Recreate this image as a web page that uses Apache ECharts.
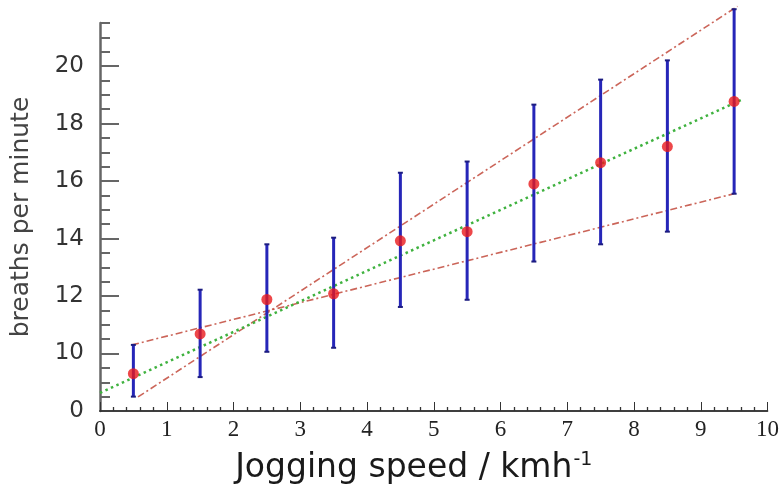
<!DOCTYPE html>
<html>
<head>
<meta charset="utf-8">
<script src="https://cdn.jsdelivr.net/npm/echarts@6/dist/echarts.min.js"></script>
<style>html,body{margin:0;padding:0;background:#fff}#c{width:782px;height:490px}</style>
</head>
<body>
<div id="c"></div>
<script>
// ---- data ----
const speeds  = [0.5, 1.5, 2.5, 3.5, 4.5, 5.5, 6.5, 7.5, 8.5, 9.5];
const breaths = [9.3, 10.68, 11.88, 12.08, 13.92, 14.24, 15.9, 16.64, 17.2, 18.77];
const errLow  = [8.5, 9.18, 10.06, 10.2, 11.62, 11.87, 13.2, 13.8, 14.24, 15.56];
const errHigh = [10.3, 12.22, 13.8, 14.03, 16.29, 16.68, 18.66, 19.53, 20.2, 21.98];

const bestFitX = [0, 9.62];
const bestFitY = [8.63, 18.84];
const maxFitX  = [0.57, 9.55];
const maxFitY  = [8.49, 22.08];
const minFitX  = [0.48, 9.5];
const minFitY  = [10.3, 15.56];

const xTickLabels = ['0','1','2','3','4','5','6','7','8','9','10'];
const xMinorTicks = [0.2,0.4,0.6,0.8,1.2,1.4,1.6,1.8,2.2,2.4,2.6,2.8,3.2,3.4,3.6,3.8,4.2,4.4,4.6,4.8,5.2,5.4,5.6,5.8,6.2,6.4,6.6,6.8,7.2,7.4,7.6,7.8,8.2,8.4,8.6,8.8,9.2,9.4,9.6,9.8];
const yLabelValues = [8, 10, 12, 14, 16, 18, 20];
const yTickLabels  = ['0','10','12','14','16','18','20'];
const yMajorTicks  = [10, 12, 14, 16, 18, 20];
const yMinorTicks  = [8.5, 9, 9.5, 10.5, 11, 11.5, 12.5, 13, 13.5, 14.5, 15, 15.5, 16.5, 17, 17.5, 18.5, 19, 19.5, 20.5, 21, 21.5];

const chart = echarts.init(document.getElementById('c'));
const pts = speeds.map((x, i) => [x, breaths[i]]);
const bars = speeds.map((x, i) => [x, errLow[i], errHigh[i]]);
const pair = (xs, ys) => xs.map((x, i) => [x, ys[i]]);

chart.setOption({
  animation: false,
  backgroundColor: '#fff',
  grid: { left: 100, right: 12, top: 23, bottom: 79 },
  xAxis: [{
    type: 'value', min: 0, max: 10, interval: 1, position: 'bottom',
    axisLine: { show: true, onZero: false, lineStyle: { color: '#333', width: 1.5 } },
    axisTick: { show: true, inside: true, length: 9, lineStyle: { color: '#333', width: 1 } },
    splitLine: { show: false },
    axisLabel: {
      margin: 7, color: '#222', fontFamily: 'Liberation Serif', fontSize: 23,
      formatter: v => xTickLabels[Math.round(v)]
    },
    name: '{a|Jogging speed / kmh}{s|-1}',
    nameLocation: 'middle', nameGap: 40,
    nameTextStyle: {
      padding: [0, 40, 0, 0],
      rich: {
        a: { fontFamily: 'DejaVu Sans', fontSize: 33, color: '#1a1a1a' },
        s: { fontFamily: 'DejaVu Sans', fontSize: 19, color: '#1a1a1a', verticalAlign: 'top', padding: [0, 0, 15, 1] }
      }
    }
  }, {
    type: 'value', min: 0, max: 10, position: 'bottom', gridIndex: 0,
    axisLine: { show: true, onZero: false, lineStyle: { color: '#333', width: 1.5 } },
    axisTick: { show: true, inside: true, length: 4, customValues: xMinorTicks, lineStyle: { color: '#333', width: 1.3 } },
    axisLabel: { show: false },
    splitLine: { show: false }
  }],
  yAxis: [{
    type: 'value', min: 8, max: 21.5, position: 'left',
    axisLine: { show: true, onZero: false, lineStyle: { color: '#666', width: 2.5 } },
    axisTick: { show: true, inside: true, length: 10, customValues: yMinorTicks, lineStyle: { color: '#666', width: 2 } },
    splitLine: { show: false },
    axisLabel: {
      margin: 16, color: '#333', fontFamily: 'DejaVu Sans', fontSize: 23,
      customValues: yLabelValues,
      formatter: v => yTickLabels[yLabelValues.indexOf(v)]
    },
    name: 'breaths per minute', nameLocation: 'middle', nameGap: 66, nameRotate: 90,
    nameTextStyle: { fontFamily: 'DejaVu Sans', fontSize: 25, color: '#444' }
  }, {
    type: 'value', min: 8, max: 21.5, position: 'left',
    axisLine: { show: false },
    axisTick: { show: true, inside: true, length: 19, customValues: yMajorTicks, lineStyle: { color: '#666', width: 2 } },
    axisLabel: { show: false },
    splitLine: { show: false }
  }],
  series: [
    {
      type: 'line', data: pair(maxFitX, maxFitY), showSymbol: false, clip: false, z: 2,
      lineStyle: { color: '#c24a3c', width: 1.6, type: [7, 3, 2, 3], opacity: 0.85 }
    },
    {
      type: 'line', data: pair(minFitX, minFitY), showSymbol: false, clip: false, z: 2,
      lineStyle: { color: '#c24a3c', width: 1.6, type: [7, 3, 2, 3], opacity: 0.85 }
    },
    {
      type: 'line', data: pair(bestFitX, bestFitY), showSymbol: false, clip: false, z: 3,
      lineStyle: { color: '#3fb23f', width: 2.5, type: [2.5, 3.5] }
    },
    {
      type: 'custom', data: bars, clip: false, z: 4,
      renderItem: (params, api) => {
        const x = api.value(0);
        const lo = api.coord([x, api.value(1)]);
        const hi = api.coord([x, api.value(2)]);
        const st = { stroke: '#2626b8', lineWidth: 3 };
        const cs = { stroke: '#1c1c80', lineWidth: 2 };
        return {
          type: 'group', children: [
            { type: 'line', shape: { x1: lo[0], y1: lo[1], x2: hi[0], y2: hi[1] }, style: st },
            { type: 'line', shape: { x1: hi[0] - 2.5, y1: hi[1], x2: hi[0] + 2.5, y2: hi[1] }, style: cs },
            { type: 'line', shape: { x1: lo[0] - 2.5, y1: lo[1], x2: lo[0] + 2.5, y2: lo[1] }, style: cs }
          ]
        };
      }
    },
    {
      type: 'scatter', data: pts, symbol: 'circle', symbolSize: 11, z: 5, clip: false,
      itemStyle: { color: '#e8191c' }
    }
  ]
});
</script>
</body>
</html>
